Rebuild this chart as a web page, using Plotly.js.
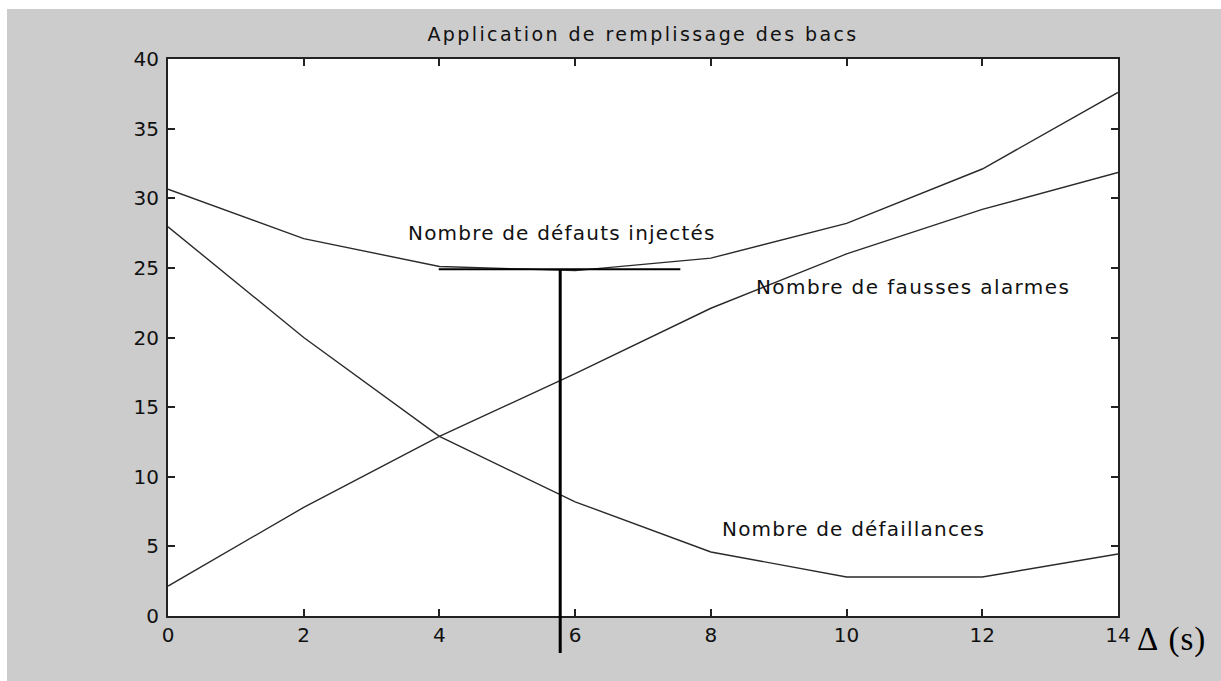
<!DOCTYPE html>
<html>
<head>
<meta charset="utf-8">
<script src="https://cdn.plot.ly/plotly-3.0.1.min.js"></script>
<style>
  body { margin: 0; background: #ffffff; }
  #plot { position: absolute; left: 7px; top: 9px; width: 1214px; height: 672px; }
</style>
</head>
<body>
<div id="plot"></div>
<script>
// delta values (s)
var delta = [0, 2, 4, 6, 8, 10, 12, 14];
var yRange = [0, 40];
var yTicks = [0, 5, 10, 15, 20, 25, 30, 35, 40];

// the three curves
var injectes = [30.65, 27.1, 25.1, 24.8, 25.7, 28.2, 32.1, 37.6];
var faussesAlarmes = [2.15, 7.8, 12.9, 17.4, 22.1, 26.0, 29.2, 31.85];
var defaillances = [27.95, 20.0, 12.9, 8.2, 4.6, 2.8, 2.8, 4.45];

// the "T" marker drawn on top of the figure
var markerX = [5.78, 5.78];
var markerY = [24.9, -2.65];
var barX = [3.99, 7.55];
var barY = [24.9, 24.9];

var labelFont = {family: "DejaVu Sans", size: 20, color: "#111"};

function spaced(txt, px) {
  return '<span style="letter-spacing:' + px + 'px">' + txt + '</span>';
}

function curve(y) {
  return {
    x: delta,
    y: y,
    mode: "lines",
    line: {color: "#2a2a2a", width: 1.4},
    hoverinfo: "skip"
  };
}

var data = [
  curve(injectes),
  curve(faussesAlarmes),
  curve(defaillances),
  {x: barX, y: barY, mode: "lines", line: {color: "#000", width: 2}}
];

// y position of the vertical marker in paper units (it runs below the axis)
function toPaper(v) {
  return (v - yRange[0]) / (yRange[1] - yRange[0]);
}

var axisStyle = {
  showgrid: false,
  zeroline: false,
  showline: true,
  linecolor: "#222",
  linewidth: 2,
  mirror: "ticks",
  ticks: "inside",
  ticklen: 7,
  tickwidth: 2,
  tickcolor: "#222",
  tickfont: {family: "DejaVu Sans", size: 20, color: "#111"}
};

var layout = {
  width: 1214,
  height: 672,
  showlegend: false,
  paper_bgcolor: "#cccccc",
  plot_bgcolor: "#ffffff",
  margin: {l: 161, r: 103, t: 50, b: 65},
  title: {
    text: spaced("Application de remplissage des bacs", 2.4),
    font: {family: "DejaVu Sans", size: 19, color: "#111"},
    x: 0.5,
    xref: "paper",
    y: 0.963,
    yanchor: "middle"
  },
  xaxis: Object.assign({}, axisStyle, {range: [0, 14], tickvals: delta}),
  yaxis: Object.assign({}, axisStyle, {range: yRange, tickvals: yTicks, ticklabelstandoff: 3}),
  shapes: [
    {type: "line", xref: "x", yref: "paper", layer: "above",
     x0: markerX[0], x1: markerX[1], y0: toPaper(markerY[0]), y1: toPaper(markerY[1]),
     line: {color: "#000", width: 3}}
  ],
  annotations: [
    {x: 3.51, y: 27.5, text: spaced("Nombre de défauts injectés", 1.2), showarrow: false, xanchor: "left", yanchor: "middle", font: labelFont},
    {x: 8.64, y: 23.6, text: spaced("Nombre de fausses alarmes", 1.4), showarrow: false, xanchor: "left", yanchor: "middle", font: labelFont},
    {x: 8.14, y: 6.25, text: spaced("Nombre de défaillances", 1.2), showarrow: false, xanchor: "left", yanchor: "middle", font: labelFont},
    {xref: "paper", yref: "paper", x: 1, y: 0, xshift: 17, yshift: -3, text: spaced("Δ\u00a0(s)", 1), showarrow: false,
     xanchor: "left", yanchor: "top", font: {family: "Liberation Serif", size: 33, color: "#000"}}
  ]
};

Plotly.newPlot("plot", data, layout, {staticPlot: true});
</script>
</body>
</html>
